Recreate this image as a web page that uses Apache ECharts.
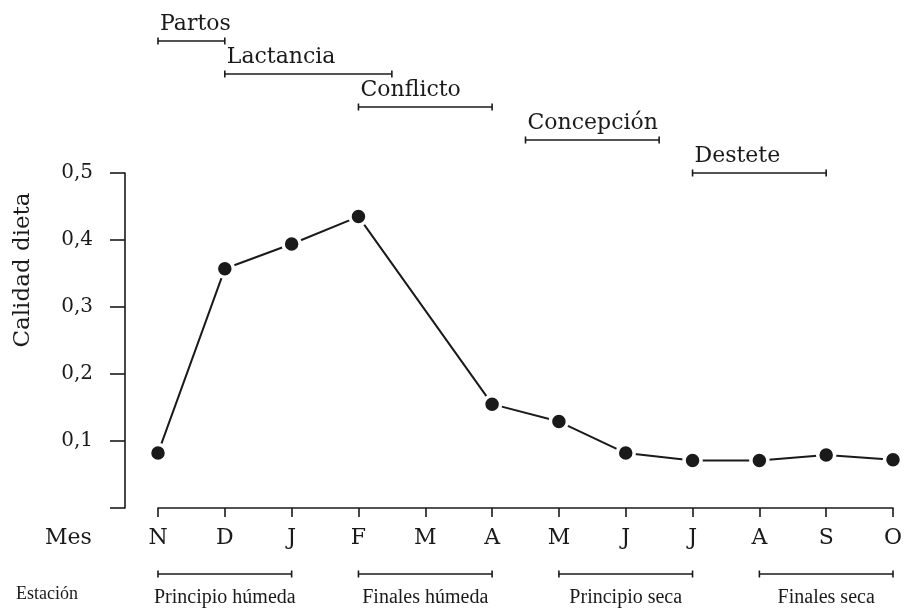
<!DOCTYPE html>
<html>
<head>
<meta charset="utf-8">
<script src="https://cdn.jsdelivr.net/npm/echarts@6/dist/echarts.min.js"></script>
<style>
  html, body { margin: 0; padding: 0; background: #fff; }
  #chart { width: 909px; height: 613px; }
</style>
</head>
<body>
<div id="chart"></div>
<script>
// Months of the year, November to October
const months = ['N', 'D', 'J', 'F', 'M', 'A', 'M', 'J', 'J', 'A', 'S', 'O'];
// Diet quality per month (no sample in March)
const dietQuality = [0.082, 0.357, 0.394, 0.435, null, 0.155, 0.129, 0.082, 0.071, 0.071, 0.079, 0.072];

// y axis ticks
const yTicks = [0, 0.1, 0.2, 0.3, 0.4, 0.5];

// Reproductive phases (month index where they start / end)
const phaseNames = ['Partos', 'Lactancia', 'Conflicto', 'Concepción', 'Destete'];
const phaseStart = [0, 1, 3, 5.5, 8];
const phaseEnd   = [1, 3.5, 5, 7.5, 10];

// Seasons (month index where they start / end)
const seasonNames = ['Principio húmeda', 'Finales húmeda', 'Principio seca', 'Finales seca'];
const seasonStart = [0, 3, 6, 9];
const seasonEnd   = [2, 5, 8, 11];

const SERIF = '"DejaVu Serif", serif';
const NARROW = '"Liberation Serif", serif';
const INK = '#1a1a1a';

const chart = echarts.init(document.getElementById('chart'));

// x pixel of a (possibly fractional) month index
function monthX(api, v) {
  const i0 = Math.floor(v);
  const f = v - i0;
  const x0 = api.coord([i0, 0])[0];
  if (f === 0) return x0;
  const x1 = api.coord([i0 + 1, 0])[0];
  return x0 + f * (x1 - x0);
}

function bracket(x0, x1, y) {
  return [
    { type: 'line', shape: { x1: x0, y1: y, x2: x1, y2: y }, style: { stroke: INK, lineWidth: 1.6 } },
    { type: 'line', shape: { x1: x0, y1: y - 3.5, x2: x0, y2: y + 3.5 }, style: { stroke: INK, lineWidth: 1.6 } },
    { type: 'line', shape: { x1: x1, y1: y - 3.5, x2: x1, y2: y + 3.5 }, style: { stroke: INK, lineWidth: 1.6 } }
  ];
}

chart.setOption({
  animation: false,
  backgroundColor: '#fff',
  grid: { left: 158, right: 16, top: 173, bottom: 105 },
  xAxis: {
    type: 'category',
    data: months,
    boundaryGap: false,
    axisLine: { lineStyle: { color: INK, width: 1.6 } },
    axisTick: { length: 9, lineStyle: { color: INK, width: 1.6 } },
    axisLabel: { color: INK, fontFamily: SERIF, fontSize: 22, margin: 19 }
  },
  yAxis: {
    type: 'value',
    min: yTicks[0],
    max: yTicks[yTicks.length - 1],
    interval: 0.1,
    offset: 33,
    axisLine: { show: true, lineStyle: { color: INK, width: 1.6 } },
    axisTick: { show: true, length: 15, lineStyle: { color: INK, width: 1.6 } },
    splitLine: { show: false },
    axisLabel: {
      color: INK, fontFamily: SERIF, fontSize: 20, margin: 32,
      formatter: v => (v === 0 ? '' : v.toFixed(1).replace('.', ','))
    }
  },
  graphic: [
    {
      type: 'text', x: 23, y: 270, rotation: Math.PI / 2,
      style: { text: 'Calidad dieta', font: '23px ' + SERIF, fill: INK, align: 'center', verticalAlign: 'middle' }
    },
    { type: 'text', left: 45, top: 527, style: { text: 'Mes', font: '22px ' + SERIF, fill: INK } },
    { type: 'text', left: 16, top: 585, style: { text: 'Estación', font: '18px ' + NARROW, fill: INK } }
  ],
  series: [
    {
      type: 'line',
      data: dietQuality,
      connectNulls: true,
      symbol: 'circle',
      symbolSize: 17,
      lineStyle: { color: INK, width: 2 },
      itemStyle: { color: INK, borderColor: '#fff', borderWidth: 3.5 },
      z: 3
    },
    {
      type: 'custom',
      silent: true,
      data: phaseNames.map((n, i) => [phaseStart[i], 0.25]),
      renderItem: (params, api) => {
        const i = params.dataIndex;
        const x0 = monthX(api, phaseStart[i]);
        const x1 = monthX(api, phaseEnd[i]);
        const y = 41 + i * 33;
        return {
          type: 'group',
          children: bracket(x0, x1, y).concat([{
            type: 'text',
            style: {
              text: phaseNames[i], x: x0 + 2, y: y - 6,
              align: 'left', verticalAlign: 'bottom',
              font: '22px ' + SERIF, fill: INK
            }
          }])
        };
      }
    },
    {
      type: 'custom',
      silent: true,
      data: seasonNames.map((n, i) => [seasonStart[i], 0.25]),
      renderItem: (params, api) => {
        const i = params.dataIndex;
        const x0 = monthX(api, seasonStart[i]);
        const x1 = monthX(api, seasonEnd[i]);
        const y = 574;
        return {
          type: 'group',
          children: bracket(x0, x1, y).concat([{
            type: 'text',
            style: {
              text: seasonNames[i], x: (x0 + x1) / 2, y: 598,
              align: 'center', verticalAlign: 'middle',
              font: '20px ' + NARROW, fill: INK
            }
          }])
        };
      }
    }
  ]
});
</script>
</body>
</html>
